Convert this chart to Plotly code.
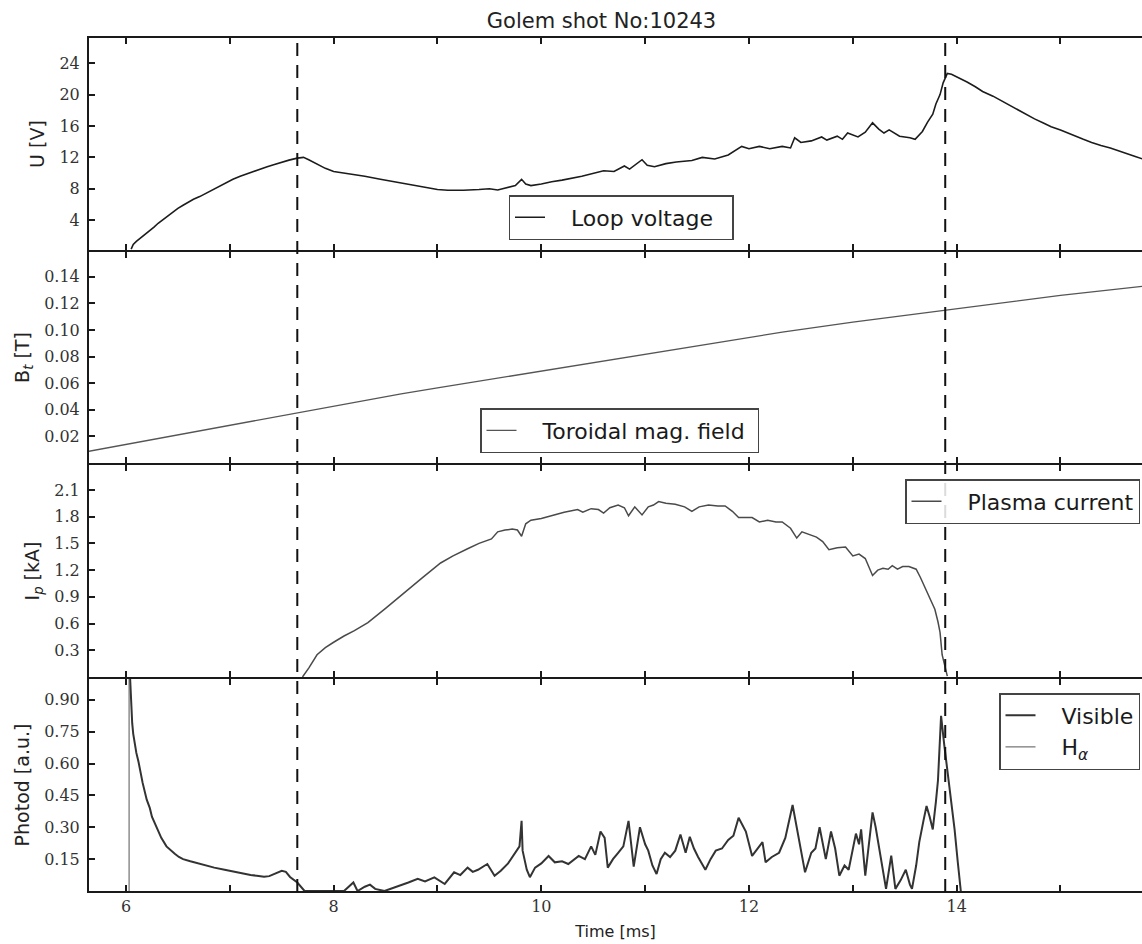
import plotly.graph_objects as go
from plotly.subplots import make_subplots

# ---------------- data ----------------
loop_t = [6.05, 6.07, 6.10, 6.12, 6.15, 6.18, 6.23, 6.27, 6.31, 6.35, 6.39, 6.44, 6.50, 6.55, 6.60,
          6.65, 6.71, 6.78, 6.85, 6.93, 7.03, 7.10, 7.20, 7.28, 7.36, 7.43, 7.50, 7.57,
          7.65, 7.71, 7.76, 7.85, 7.92, 8.00, 8.15, 8.30, 8.45, 8.65, 8.85, 9.00, 9.10, 9.25, 9.40,
          9.50, 9.58, 9.65, 9.75, 9.81, 9.85, 9.90, 10.0, 10.1, 10.2, 10.39, 10.5, 10.6, 10.7, 10.8,
          10.85, 10.97, 11.02, 11.09, 11.2, 11.3, 11.45, 11.55, 11.67, 11.8, 11.93, 12.0, 12.1, 12.2,
          12.32, 12.40, 12.44, 12.50, 12.6, 12.7, 12.75, 12.85, 12.90, 12.95, 13.05, 13.12, 13.19,
          13.25, 13.30, 13.35, 13.45, 13.55, 13.60, 13.67, 13.72, 13.77, 13.80, 13.84, 13.87, 13.91,
          13.95, 14.05, 14.10, 14.18, 14.25, 14.35, 14.43, 14.51, 14.59, 14.67, 14.75, 14.83, 14.91,
          15.00, 15.07, 15.15, 15.22, 15.30, 15.39, 15.48, 15.56, 15.65, 15.72, 15.79]
loop_u = [0.3, 0.9, 1.3, 1.5, 1.8, 2.1, 2.6, 3.1, 3.6, 4.0, 4.5, 4.9, 5.5, 5.9, 6.3,
          6.65, 7.0, 7.5, 8.0, 8.5, 9.2, 9.6, 10.1, 10.45, 10.8, 11.1, 11.4, 11.65,
          11.9, 12.0, 11.7, 11.1, 10.6, 10.2, 9.9, 9.6, 9.2, 8.7, 8.2, 7.9, 7.8, 7.8, 7.9,
          8.0, 7.85, 8.1, 8.4, 9.2, 8.6, 8.4, 8.6, 8.9, 9.1, 9.6, 10.0, 10.3, 10.2, 10.9,
          10.5, 11.7, 11.0, 10.8, 11.2, 11.4, 11.6, 12.0, 11.8, 12.3, 13.4, 13.1, 13.4, 13.1,
          13.4, 13.2, 14.5, 13.9, 14.1, 14.6, 14.2, 14.7, 14.3, 15.1, 14.6, 15.2, 16.4,
          15.6, 15.1, 15.5, 14.7, 14.5, 14.3, 15.3, 16.5, 17.5, 18.8, 20.0, 21.5, 22.7,
          22.6, 22.0, 21.6, 21.0, 20.4, 19.8, 19.2, 18.7, 18.1, 17.5, 16.9, 16.4, 15.9,
          15.5, 15.1, 14.7, 14.3, 13.9, 13.5, 13.2, 12.8, 12.4, 12.1, 11.8]

bt_t = [5.64, 6.0, 6.5, 7.0, 7.65, 8.0, 8.65, 9.0, 10.0, 11.0, 12.0, 12.32, 13.0, 13.9, 14.5, 15.0, 15.8]
bt_v = [0.0088, 0.014, 0.0213, 0.0285, 0.0379, 0.043, 0.052, 0.0565, 0.069, 0.0815, 0.0945, 0.0984,
        0.106, 0.115, 0.121, 0.126, 0.133]

ip_t = [7.70, 7.76, 7.84, 7.92, 8.00, 8.10, 8.20, 8.33, 8.50, 8.65, 8.85, 9.03, 9.15, 9.29, 9.40,
        9.52, 9.58, 9.65, 9.72, 9.77, 9.81, 9.85, 9.90, 10.0, 10.10, 10.22, 10.35, 10.40, 10.48,
        10.55, 10.60, 10.66, 10.74, 10.80, 10.84, 10.90, 10.97, 11.03, 11.08, 11.13, 11.20, 11.29,
        11.38, 11.45, 11.52, 11.61, 11.70, 11.77, 11.84, 11.90, 11.96, 12.03, 12.10, 12.18, 12.26,
        12.32, 12.40, 12.46, 12.51, 12.58, 12.65, 12.71, 12.77, 12.85, 12.93, 13.00, 13.06, 13.12,
        13.19, 13.24, 13.29, 13.34, 13.38, 13.43, 13.48, 13.54, 13.61, 13.65, 13.69, 13.74, 13.79,
        13.82, 13.84, 13.86, 13.91]
ip_v = [0.0, 0.1, 0.25, 0.33, 0.39, 0.46, 0.52, 0.61, 0.77, 0.92, 1.11, 1.28, 1.36, 1.44, 1.50,
        1.55, 1.63, 1.65, 1.66, 1.65, 1.58, 1.72, 1.76, 1.78, 1.81, 1.85, 1.88, 1.85, 1.89,
        1.88, 1.84, 1.90, 1.93, 1.90, 1.81, 1.91, 1.82, 1.91, 1.93, 1.97, 1.95, 1.94,
        1.91, 1.86, 1.91, 1.93, 1.92, 1.92, 1.86, 1.79, 1.79, 1.79, 1.74, 1.76, 1.74,
        1.74, 1.67, 1.56, 1.63, 1.60, 1.57, 1.52, 1.43, 1.45, 1.46, 1.36, 1.38, 1.33,
        1.14, 1.20, 1.22, 1.21, 1.25, 1.21, 1.24, 1.24, 1.21, 1.12, 1.02, 0.90, 0.76,
        0.62, 0.50, 0.25, 0.01]

vis_t = [6.04, 6.05, 6.06, 6.07, 6.085, 6.10, 6.12, 6.135, 6.16, 6.20, 6.23, 6.25, 6.275, 6.30,
         6.34, 6.39, 6.43, 6.47, 6.51, 6.55, 6.62, 6.71, 6.78, 6.85, 6.95, 7.04, 7.12, 7.20, 7.26,
         7.33, 7.38, 7.42, 7.46, 7.50, 7.54, 7.58, 7.65, 7.70, 7.72, 8.10, 8.15, 8.19, 8.23, 8.30,
         8.35, 8.40,
         8.49, 8.58, 8.65, 8.72, 8.81, 8.88, 8.97, 9.02, 9.07, 9.16, 9.22, 9.29, 9.34, 9.39, 9.44,
         9.48, 9.55, 9.61, 9.68, 9.74, 9.79, 9.81, 9.82, 9.86, 9.89, 9.94, 10.0, 10.07, 10.13,
         10.20, 10.26, 10.36, 10.42, 10.48, 10.52, 10.57, 10.61, 10.64, 10.69, 10.74, 10.79, 10.84,
         10.89, 10.95, 11.0, 11.03, 11.07, 11.11, 11.15, 11.19, 11.24, 11.29, 11.34, 11.39, 11.43,
         11.47, 11.51, 11.58, 11.63, 11.68, 11.74, 11.80, 11.85, 11.90, 11.97, 12.03, 12.08, 12.13,
         12.16, 12.22, 12.29, 12.35, 12.42, 12.46, 12.50, 12.54, 12.60, 12.64, 12.68, 12.71, 12.74,
         12.79, 12.83, 12.87, 12.92, 12.96, 13.00, 13.03, 13.06, 13.08, 13.12, 13.15, 13.19, 13.22,
         13.25, 13.29, 13.32, 13.37, 13.41, 13.46, 13.51, 13.55, 13.57, 13.61, 13.64, 13.68, 13.71,
         13.74, 13.77, 13.80, 13.82, 13.85, 13.87, 13.88, 13.91, 13.95, 13.98, 14.01, 14.04]
vis_v = [1.0, 0.85, 0.79, 0.74, 0.69, 0.65, 0.61, 0.57, 0.51, 0.43, 0.39, 0.35, 0.32, 0.29,
         0.25, 0.21, 0.19, 0.175, 0.16, 0.15, 0.14, 0.127, 0.118, 0.11, 0.10, 0.09, 0.082, 0.075, 0.072,
         0.067, 0.07, 0.078, 0.088, 0.095, 0.09, 0.066, 0.04, 0.01, 0.0, 0.0, 0.02, 0.04, 0.0, 0.02,
         0.03, 0.01,
         0.0, 0.015, 0.025, 0.04, 0.057, 0.045, 0.064, 0.05, 0.033, 0.088, 0.075, 0.11, 0.09, 0.10, 0.115,
         0.127, 0.072, 0.095, 0.13, 0.173, 0.21, 0.33, 0.19, 0.10, 0.065, 0.11, 0.13, 0.165, 0.135,
         0.14, 0.127, 0.165, 0.15, 0.21, 0.17, 0.28, 0.25, 0.11, 0.15, 0.18, 0.21, 0.33,
         0.115, 0.30, 0.22, 0.19, 0.12, 0.08, 0.15, 0.18, 0.16, 0.19, 0.266, 0.18, 0.255,
         0.20, 0.16, 0.10, 0.15, 0.19, 0.20, 0.24, 0.26, 0.345, 0.28, 0.165, 0.20, 0.23,
         0.135, 0.16, 0.18, 0.25, 0.405, 0.30, 0.20, 0.088, 0.18, 0.20, 0.30, 0.22, 0.15,
         0.28, 0.20, 0.072, 0.12, 0.10, 0.20, 0.27, 0.22, 0.29, 0.072, 0.20, 0.37, 0.30,
         0.21, 0.10, 0.01, 0.166, 0.01, 0.05, 0.10, 0.03, 0.01, 0.12, 0.23, 0.33, 0.40,
         0.35, 0.29, 0.42, 0.52, 0.825, 0.72, 0.69, 0.57, 0.42, 0.29, 0.14, 0.0]

ha_t = [6.03, 6.03]
ha_v = [0.0, 1.0]

event_times = [7.65, 13.89]

x_major_ticks = [6, 8, 10, 12, 14]
x_minor_ticks = [7, 9, 11, 13, 15]
u_ticks = [4, 8, 12, 16, 20, 24]
bt_ticks = [0.02, 0.04, 0.06, 0.08, 0.10, 0.12, 0.14]
ip_ticks = [0.3, 0.6, 0.9, 1.2, 1.5, 1.8, 2.1]
ph_ticks = [0.15, 0.30, 0.45, 0.60, 0.75, 0.90]

# ---------------- figure ----------------
W, H = 1142, 944
ML, MR, MT, MB = 89, 0, 38, 52
PW, PH = W - ML - MR, H - MT - MB
LW = 2  # axis line width

def px_x(p):
    return (p - ML) / PW

def px_y(p):
    return (H - MB - p) / PH

# panel top/bottom edges in pixels (adjacent panels overlap so their frame lines coincide)
panel_px = [(38, 250), (252, 463), (465, 677), (679, 891)]

fig = make_subplots(rows=4, cols=1, shared_xaxes=True, vertical_spacing=0)

NB = "\u00a0"
fig.add_trace(go.Scatter(x=loop_t, y=loop_u, mode="lines", name=NB * 3 + "Loop voltage" + NB * 2,
                         line=dict(color="#1c1c1c", width=1.6), legend="legend"), row=1, col=1)
fig.add_trace(go.Scatter(x=bt_t, y=bt_v, mode="lines", name=NB * 3 + "Toroidal mag. field" + NB,
                         line=dict(color="#555555", width=1.3), legend="legend2"), row=2, col=1)
fig.add_trace(go.Scatter(x=ip_t, y=ip_v, mode="lines", name=NB * 3 + "Plasma current",
                         line=dict(color="#4a4a4a", width=1.5), legend="legend3"), row=3, col=1)
fig.add_trace(go.Scatter(x=vis_t, y=vis_v, mode="lines", name=NB * 3 + "Visible",
                         line=dict(color="#333333", width=2.0), legend="legend4"), row=4, col=1)
fig.add_trace(go.Scatter(x=ha_t, y=ha_v, mode="lines", name=NB * 3 + "H<sub><i>α</i></sub>",
                         line=dict(color="#555555", width=1.0), legend="legend4"), row=4, col=1)

axis_col = "#1a1a1a"
tick_font = dict(family="DejaVu Serif", size=16, color="#333333")
title_font = dict(family="DejaVu Sans", size=19, color="#222222")

fig.update_xaxes(range=[5.644, 15.785], tickvals=x_major_ticks,
                 ticks="inside", ticklen=6, tickwidth=1.5, tickcolor=axis_col,
                 minor=dict(tickvals=x_minor_ticks, ticks="inside", ticklen=6, tickwidth=1.5,
                            tickcolor=axis_col),
                 showline=True, linewidth=LW, linecolor=axis_col, mirror="ticks",
                 showgrid=False, zeroline=False, tickfont=tick_font)
fig.update_xaxes(title=dict(text="Time [ms]", font=dict(family="DejaVu Sans", size=16, color="#222222"),
                            standoff=11), row=4, col=1)

common_y = dict(ticks="inside", ticklen=6, tickwidth=1.5, tickcolor=axis_col,
                showline=True, linewidth=LW, linecolor=axis_col, mirror=False,
                showgrid=False, zeroline=False, tickfont=tick_font, ticklabelstandoff=4)

doms = [[px_y(b), px_y(t)] for (t, b) in panel_px]
doms[0][1] = 1.0

fig.update_yaxes(range=[0.195, 27.21], tickvals=u_ticks, domain=doms[0],
                 title=dict(text="U [V]", font=title_font, standoff=10), row=1, col=1, **common_y)
fig.update_yaxes(range=[0.0, 0.1587], tickvals=bt_ticks, tickformat=".2f", domain=doms[1],
                 title=dict(text="B<sub><i>t</i></sub> [T]", font=title_font, standoff=10),
                 row=2, col=1, **common_y)
fig.update_yaxes(range=[0.0, 2.38], tickvals=ip_ticks, tickformat=".1f", domain=doms[2],
                 title=dict(text="I<sub><i>p</i></sub> [kA]", font=title_font, standoff=10),
                 row=3, col=1, **common_y)
fig.update_yaxes(range=[0.0, 0.998], tickvals=ph_ticks, tickformat=".2f", domain=doms[3],
                 title=dict(text="Photod [a.u.]", font=title_font, standoff=10),
                 row=4, col=1, **common_y)

for t in event_times:
    fig.add_shape(type="line", x0=t, x1=t, xref="x", y0=0, y1=1, yref="paper",
                  line=dict(color="#111111", width=2, dash="13px,9px"), layer="above")

leg_font = dict(family="DejaVu Sans", size=22, color="#1a1a1a")
leg_common = dict(bgcolor="rgba(255,255,255,0.85)", bordercolor="#444444", borderwidth=1.5,
                  font=leg_font, tracegroupgap=0)

fig.update_layout(
    width=W, height=H,
    margin=dict(l=ML, r=MR, t=MT, b=MB),
    paper_bgcolor="white", plot_bgcolor="white",
    showlegend=True,
    title=dict(text="Golem shot No:10243", x=px_x(601.5), xref="paper", xanchor="center",
               y=1 - 21 / H, yref="container", yanchor="middle",
               font=dict(family="DejaVu Sans", size=21, color="#222222")),
    legend=dict(x=px_x(621), y=px_y(195), xanchor="center", yanchor="top", **leg_common),
    legend2=dict(x=px_x(619.5), y=px_y(408), xanchor="center", yanchor="top", **leg_common),
    legend3=dict(x=px_x(1140), y=px_y(479), xanchor="right", yanchor="top", **leg_common),
    legend4=dict(x=px_x(1140), y=px_y(693), xanchor="right", yanchor="top", **leg_common),
)

fig.write_html("out.html")
